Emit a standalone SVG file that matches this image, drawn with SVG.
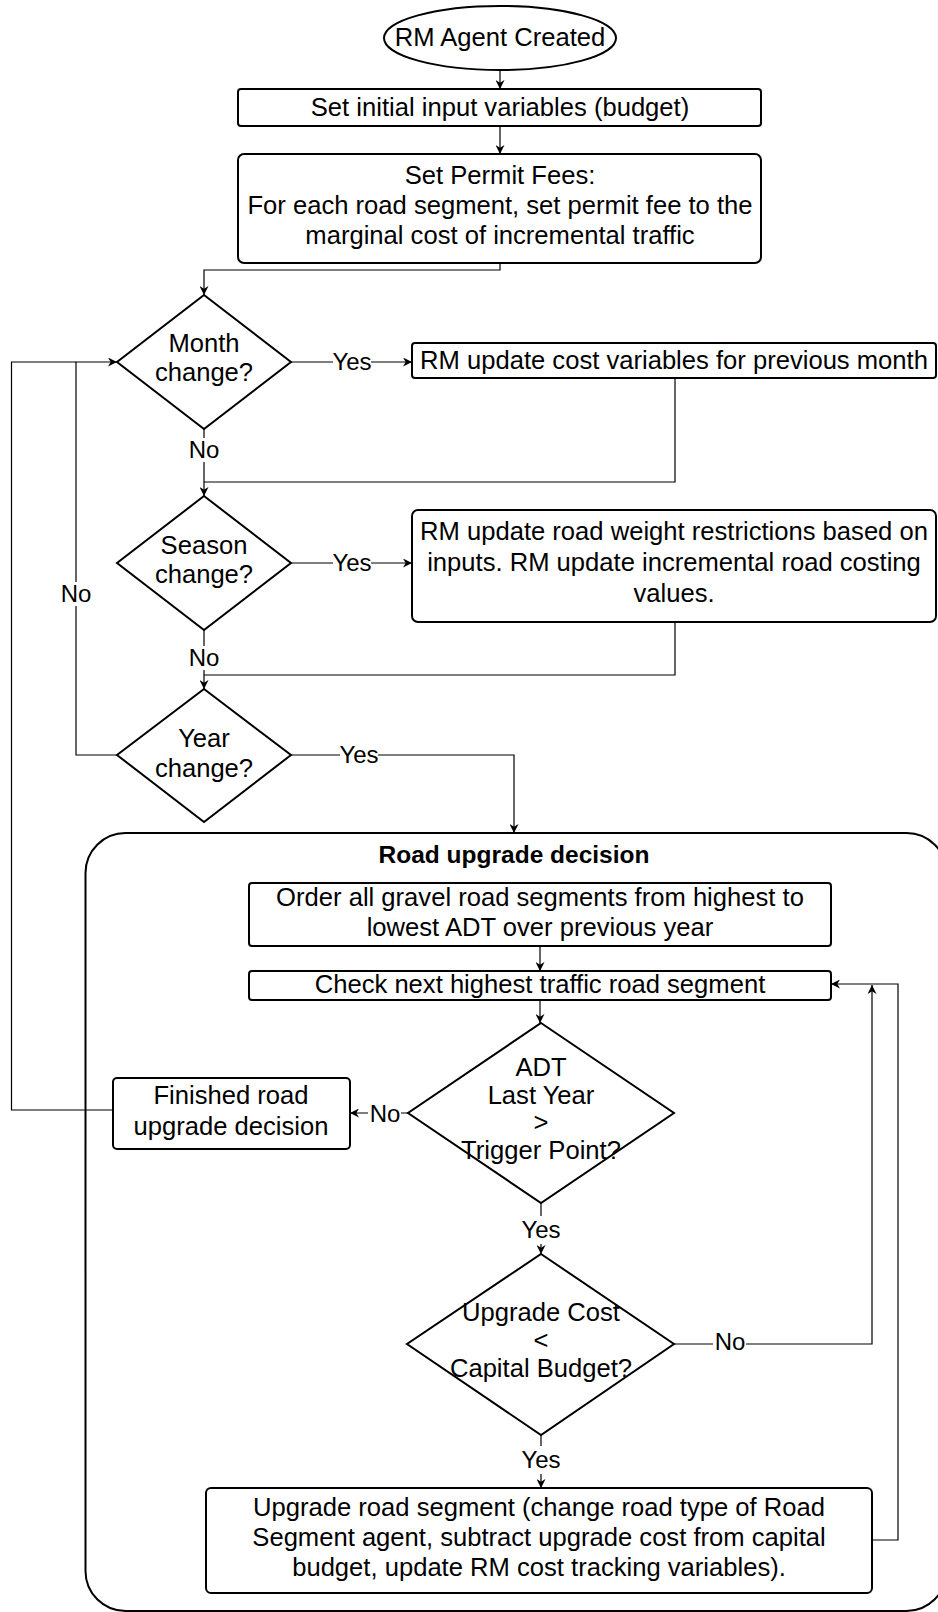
<svg xmlns="http://www.w3.org/2000/svg" width="938" height="1612" viewBox="0 0 938 1612">
<style>
text{font-family:"Liberation Sans",Arial,sans-serif;font-size:25.6px;fill:#000;text-anchor:middle}
.lbl{font-size:24px}
.title{font-weight:bold;font-size:24.5px}
.node{fill:#fff;stroke:#000;stroke-width:2}
.edge{fill:none;stroke:#000;stroke-width:1.2}
.bg{fill:#fff;stroke:none}
</style>
<defs>
<marker id="arr" viewBox="0 0 10 10" refX="10" refY="5" markerWidth="9" markerHeight="9" markerUnits="userSpaceOnUse" orient="auto">
<path d="M0,0 L10,5 L0,10 L3,5 z" fill="#000"/>
</marker>
</defs>
<rect width="938" height="1612" fill="#fff"/>

<g id="container">
<rect class="node" x="85.5" y="833" width="861" height="778" rx="40" ry="40"/>
<text class="title" x="514" y="863">Road upgrade decision</text>
</g>

<g id="connectors">
<path class="edge" d="M500,70 V89" marker-end="url(#arr)"/>
<path class="edge" d="M500,126 V154" marker-end="url(#arr)"/>
<path class="edge" d="M500,263 V270 H204 V295" marker-end="url(#arr)"/>
<path class="edge" d="M291,362 H412" marker-end="url(#arr)"/>
<path class="edge" d="M675,378 V482 H204"/>
<path class="edge" d="M204,428 V496" marker-end="url(#arr)"/>
<path class="edge" d="M291,563 H412" marker-end="url(#arr)"/>
<path class="edge" d="M675,622 V675 H204"/>
<path class="edge" d="M204,630 V689" marker-end="url(#arr)"/>
<path class="edge" d="M117,755 H76 V362 H117" marker-end="url(#arr)"/>
<path class="edge" d="M113,1110 H11.5 V362 H76"/>
<path class="edge" d="M291,755 H514 V833" marker-end="url(#arr)"/>
<path class="edge" d="M540,946 V971" marker-end="url(#arr)"/>
<path class="edge" d="M540,1000 V1023" marker-end="url(#arr)"/>
<path class="edge" d="M408,1113 H350" marker-end="url(#arr)"/>
<path class="edge" d="M541,1203 V1254" marker-end="url(#arr)"/>
<path class="edge" d="M674,1344 H872 V985" marker-end="url(#arr)"/>
<path class="edge" d="M541,1435 V1488" marker-end="url(#arr)"/>
<path class="edge" d="M872,1540 H898 V984 H831" marker-end="url(#arr)"/>
<g id="edge-labels">
<rect class="bg" x="333" y="348" width="38" height="26"/><text class="lbl" x="352" y="370">Yes</text>
<rect class="bg" x="189" y="438" width="30" height="24"/><text class="lbl" x="204" y="458">No</text>
<rect class="bg" x="333" y="549" width="38" height="26"/><text class="lbl" x="352" y="571">Yes</text>
<rect class="bg" x="189" y="646" width="30" height="24"/><text class="lbl" x="204" y="666">No</text>
<rect class="bg" x="61" y="582" width="30" height="24"/><text class="lbl" x="76" y="602">No</text>
<rect class="bg" x="340" y="741" width="38" height="26"/><text class="lbl" x="359" y="763">Yes</text>
<rect class="bg" x="368" y="1101" width="33" height="24"/><text class="lbl" x="385" y="1122">No</text>
<rect class="bg" x="522" y="1216" width="38" height="28"/><text class="lbl" x="541" y="1238">Yes</text>
<rect class="bg" x="713" y="1330" width="33" height="24"/><text class="lbl" x="730" y="1350">No</text>
<rect class="bg" x="522" y="1446" width="38" height="28"/><text class="lbl" x="541" y="1468">Yes</text>
</g>
</g>

<g id="start">
<ellipse class="node" cx="500" cy="38" rx="116" ry="32"/>
<text x="500" y="46">RM Agent Created</text>
</g>

<g id="init">
<rect class="node" x="238" y="89" width="523" height="37" rx="3"/>
<text x="500" y="116">Set initial input variables (budget)</text>
</g>

<g id="permit">
<rect class="node" x="238" y="154" width="523" height="109" rx="6"/>
<text x="500" y="184">Set Permit Fees:</text>
<text x="500" y="214">For each road segment, set permit fee to the</text>
<text x="500" y="244">marginal cost of incremental traffic</text>
</g>

<g id="month">
<polygon class="node" points="204,295 291,362 204,429 117,362"/>
<text x="204" y="352">Month</text>
<text x="204" y="381">change?</text>
</g>

<g id="month-update">
<rect class="node" x="412" y="343" width="524" height="35" rx="3"/>
<text x="674" y="369">RM update cost variables for previous month</text>
</g>

<g id="season">
<polygon class="node" points="204,496 291,563 204,630 117,563"/>
<text x="204" y="554">Season</text>
<text x="204" y="583">change?</text>
</g>

<g id="season-update">
<rect class="node" x="412" y="510" width="524" height="112" rx="6"/>
<text x="674" y="540">RM update road weight restrictions based on</text>
<text x="674" y="571">inputs. RM update incremental road costing</text>
<text x="674" y="602">values.</text>
</g>

<g id="year">
<polygon class="node" points="204,689 291,755 204,822 117,755"/>
<text x="204" y="747">Year</text>
<text x="204" y="777">change?</text>
</g>

<g id="order">
<rect class="node" x="249" y="883" width="582" height="63" rx="3"/>
<text x="540" y="906">Order all gravel road segments from highest to</text>
<text x="540" y="936">lowest ADT over previous year</text>
</g>

<g id="check">
<rect class="node" x="249" y="971" width="582" height="29" rx="3"/>
<text x="540" y="993">Check next highest traffic road segment</text>
</g>

<g id="adt">
<polygon class="node" points="541,1023 674,1113 541,1203 408,1113"/>
<text x="541" y="1076">ADT</text>
<text x="541" y="1104">Last Year</text>
<text x="541" y="1131">&gt;</text>
<text x="541" y="1159">Trigger Point?</text>
</g>

<g id="finished">
<rect class="node" x="113" y="1078" width="237" height="71" rx="4"/>
<text x="231" y="1104">Finished road</text>
<text x="231" y="1135">upgrade decision</text>
</g>

<g id="cost">
<polygon class="node" points="541,1254 674,1344 541,1435 407,1344"/>
<text x="541" y="1321">Upgrade Cost</text>
<text x="541" y="1349">&lt;</text>
<text x="541" y="1377">Capital Budget?</text>
</g>

<g id="upgrade">
<rect class="node" x="206" y="1488" width="666" height="105" rx="5"/>
<text x="539" y="1516">Upgrade road segment (change road type of Road</text>
<text x="539" y="1546">Segment agent, subtract upgrade cost from capital</text>
<text x="539" y="1576">budget, update RM cost tracking variables).</text>
</g>
</svg>
